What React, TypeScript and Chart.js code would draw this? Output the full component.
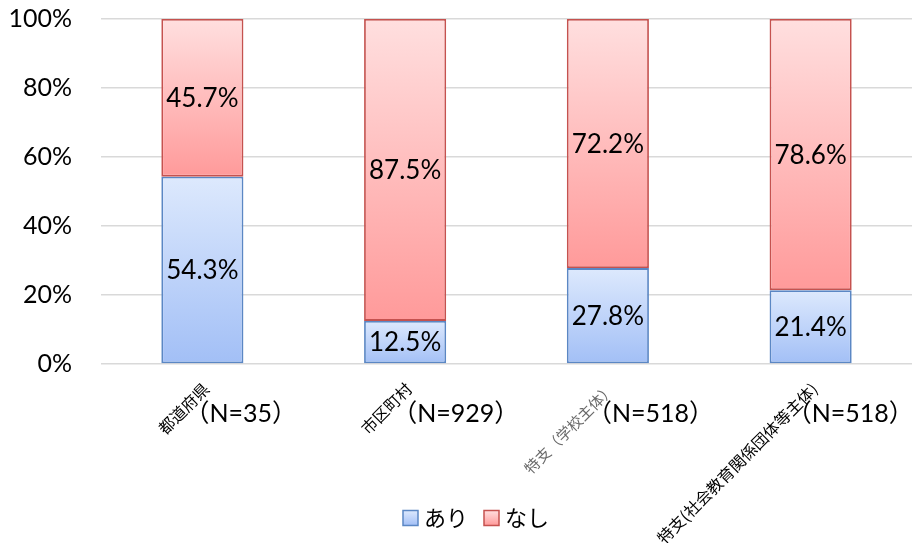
import React, { useEffect, useRef } from 'react';
import { Chart, registerables } from 'chart.js';

Chart.register(...registerables);

// Survey categories and the response split (percent of respondents)
const categories = ['都道府県', '市区町村', '特支（学校主体）', '特支(社会教育関係団体等主体)'];
const sampleSizes = ['（N=35）', '（N=929）', '（N=518）', '（N=518）'];
const ariValues = [54.3, 12.5, 27.8, 21.4];
const nashiValues = [45.7, 87.5, 72.2, 78.6];
const seriesNames = ['あり', 'なし'];
const yTickStep = 20;

// Styling
const LATIN = 'Lato, "Noto Sans CJK JP", sans-serif';
const CJK = '"Noto Sans CJK JP", sans-serif';
const BLUE = { light: '#dde9fd', dark: '#a2bff6', border: '#5b87c4' };
const RED = { light: '#ffdfdf', dark: '#ff9a9a', border: '#c5524f' };
const N_LABEL_DX = [-18, -13, -21, -24];

function segmentGradient(ctx: any, palette: { light: string; dark: string }) {
  const chart = ctx.chart;
  const y = chart.scales && chart.scales.y;
  if (ctx.type !== 'data' || !chart.chartArea || !y) return palette.dark;
  const i = ctx.dataIndex;
  const lo = ctx.datasetIndex === 0 ? 0 : ariValues[i];
  const hi = ctx.datasetIndex === 0 ? ariValues[i] : ariValues[i] + nashiValues[i];
  const top = y.getPixelForValue(hi);
  const bottom = y.getPixelForValue(lo);
  if (!isFinite(top) || !isFinite(bottom) || top === bottom) return palette.dark;
  const g = chart.ctx.createLinearGradient(0, top, 0, bottom);
  g.addColorStop(0, palette.light);
  g.addColorStop(1, palette.dark);
  return g;
}

const labelsPlugin = {
  id: 'customLabels',
  afterDatasetsDraw(chart: any) {
    const ctx = chart.ctx;
    ctx.save();
    ctx.fillStyle = '#000';
    ctx.font = `26px ${LATIN}`;
    ctx.textAlign = 'center';
    ctx.textBaseline = 'middle';
    chart.data.datasets.forEach((ds: any, di: number) => {
      const meta = chart.getDatasetMeta(di);
      meta.data.forEach((el: any, i: number) => {
        const { x, y, base } = el.getProps(['x', 'y', 'base'], true);
        ctx.fillText(ds.data[i].toFixed(1) + '%', x, (y + base) / 2 + 1);
      });
    });
    ctx.restore();
  },
  afterDraw(chart: any) {
    const ctx = chart.ctx;
    const xs = chart.scales.x;
    ctx.save();
    categories.forEach((name, i) => {
      const cx = xs.getPixelForValue(i);
      // rotated category name
      ctx.save();
      ctx.translate(cx + 4, 386);
      ctx.rotate(-Math.PI / 4);
      ctx.textAlign = 'right';
      ctx.textBaseline = 'middle';
      if (i === 2) {
        ctx.font = `15px ${CJK}`;
        ctx.fillStyle = '#6a6a6a';
      } else {
        ctx.font = `16px ${CJK}`;
        ctx.fillStyle = '#000';
      }
      ctx.fillText(name, 0, 0);
      ctx.restore();
      // sample size
      ctx.font = `25px ${LATIN}`;
      ctx.fillStyle = '#000';
      ctx.textAlign = 'left';
      ctx.textBaseline = 'middle';
      ctx.fillText(sampleSizes[i], cx + N_LABEL_DX[i], 414);
    });

    // legend
    const palettes = [BLUE, RED];
    ctx.font = `22px ${CJK}`;
    const box = 15;
    const gapBoxText = 6;
    const gapItems = 16;
    const widths = seriesNames.map((s) => box + gapBoxText + ctx.measureText(s).width);
    const total = widths.reduce((a, b) => a + b, 0) + gapItems * (widths.length - 1);
    let lx = 476 - total / 2;
    const ly = 518;
    seriesNames.forEach((s, k) => {
      const p = palettes[k];
      const g = ctx.createLinearGradient(0, ly - box / 2, 0, ly + box / 2);
      g.addColorStop(0, p.light);
      g.addColorStop(1, p.dark);
      ctx.fillStyle = g;
      ctx.fillRect(lx, ly - box / 2, box, box);
      ctx.strokeStyle = p.border;
      ctx.lineWidth = 1.5;
      ctx.strokeRect(lx, ly - box / 2, box, box);
      ctx.fillStyle = '#000';
      ctx.textAlign = 'left';
      ctx.textBaseline = 'middle';
      ctx.fillText(s, lx + box + gapBoxText, ly);
      lx += widths[k] + gapItems;
    });
    ctx.restore();
  },
};

export default function App() {
  const canvasRef = useRef<HTMLCanvasElement | null>(null);

  useEffect(() => {
    if (!canvasRef.current) return;
    const chart = new Chart(canvasRef.current, {
      type: 'bar',
      data: {
        labels: categories,
        datasets: [
          {
            label: seriesNames[0],
            data: ariValues,
            backgroundColor: (c: any) => segmentGradient(c, BLUE),
            borderColor: BLUE.border,
            borderWidth: 1.8,
            borderSkipped: false,
            categoryPercentage: 1,
            barPercentage: 0.405,
          },
          {
            label: seriesNames[1],
            data: nashiValues,
            backgroundColor: (c: any) => segmentGradient(c, RED),
            borderColor: RED.border,
            borderWidth: 1.8,
            borderSkipped: false,
            categoryPercentage: 1,
            barPercentage: 0.405,
          },
        ],
      },
      options: {
        responsive: false,
        animation: false,
        layout: { padding: { top: 19, right: 0, bottom: 179, left: 0 } },
        plugins: {
          legend: { display: false },
          tooltip: { enabled: false },
        },
        scales: {
          x: {
            stacked: true,
            display: false,
          },
          y: {
            stacked: true,
            min: 0,
            max: 100,
            border: { display: false },
            grid: { color: '#d9d9d9', lineWidth: 1.5, drawTicks: false },
            ticks: {
              stepSize: yTickStep,
              padding: 29,
              color: '#000',
              font: { family: LATIN, size: 25 },
              callback: (v: any) => v + '%',
            },
            afterFit: (scale: any) => {
              scale.width = 101;
              scale.paddingTop = 0;
              scale.paddingBottom = 0;
            },
          },
        },
      },
      plugins: [labelsPlugin],
    });
    return () => chart.destroy();
  }, []);

  return (
    <div style={{ position: 'absolute', left: 0, top: 0, width: 912, height: 543 }}>
      <canvas ref={canvasRef} width={912} height={543} style={{ display: 'block' }} />
    </div>
  );
}
